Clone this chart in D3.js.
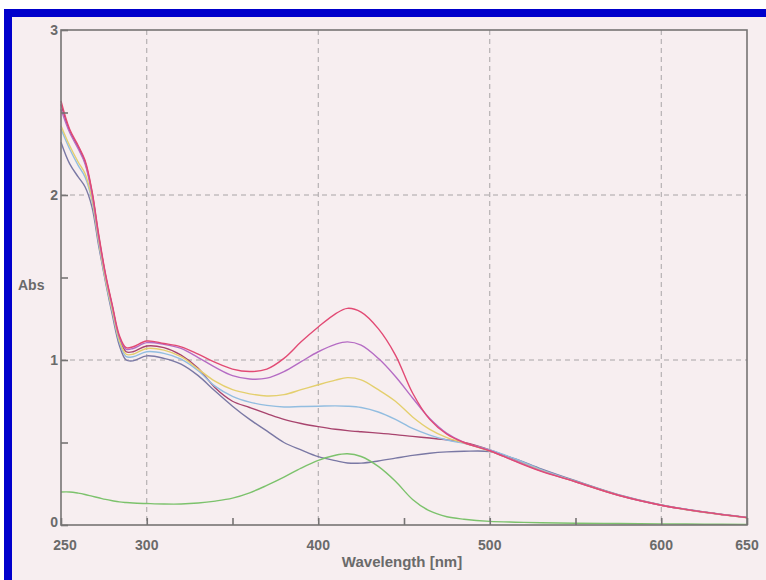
<!DOCTYPE html>
<html>
<head>
<meta charset="utf-8">
<script src="https://d3js.org/d3.v7.min.js"></script>
<style>
  html, body { margin: 0; padding: 0; background: #f7eef0; }
  svg { display: block; }
  .lbl { font-family: "Liberation Sans", Arial, sans-serif; font-weight: bold; fill: #6a6a6a; }
</style>
</head>
<body>
<svg id="canvas" width="766" height="580"></svg>
<script>
"use strict"

// wavelengths (nm) shared by all spectra
const wavelengths = [250, 255, 260, 264, 268, 272, 276, 280, 284, 288, 292, 300, 310, 320, 330, 340, 350, 360, 370, 380,
  390, 400, 410, 417, 425, 435, 445, 455, 465, 475, 485, 500, 515, 530, 550, 575, 600, 625, 650]

const absRed = [2.57, 2.40, 2.30, 2.21, 2.03, 1.76, 1.52, 1.33, 1.15, 1.075, 1.08, 1.115, 1.10, 1.08, 1.035, 0.985, 0.945, 0.93, 0.945, 1.01,
  1.11, 1.20, 1.28, 1.313, 1.29, 1.19, 1.03, 0.80, 0.64, 0.55, 0.50, 0.45, 0.385, 0.325, 0.262, 0.18, 0.12, 0.078, 0.045]
const absPurple = [2.52, 2.38, 2.28, 2.19, 2.01, 1.74, 1.51, 1.32, 1.14, 1.065, 1.07, 1.105, 1.095, 1.07, 1.015, 0.955, 0.905, 0.885, 0.89, 0.93,
  0.99, 1.05, 1.095, 1.11, 1.09, 1.01, 0.90, 0.77, 0.645, 0.555, 0.50, 0.45, 0.388, 0.328, 0.262, 0.18, 0.12, 0.078, 0.045]
const absYellow = [2.42, 2.30, 2.20, 2.13, 1.98, 1.72, 1.49, 1.30, 1.12, 1.035, 1.035, 1.07, 1.06, 1.02, 0.945, 0.87, 0.82, 0.795, 0.782, 0.79,
  0.82, 0.85, 0.878, 0.893, 0.88, 0.82, 0.75, 0.655, 0.58, 0.53, 0.497, 0.448, 0.39, 0.33, 0.262, 0.18, 0.12, 0.077, 0.044]
const absBlue = [2.40, 2.28, 2.18, 2.11, 1.97, 1.71, 1.48, 1.29, 1.11, 1.02, 1.02, 1.05, 1.04, 1.005, 0.935, 0.84, 0.78, 0.745, 0.725, 0.715,
  0.718, 0.72, 0.722, 0.72, 0.712, 0.685, 0.64, 0.585, 0.545, 0.515, 0.495, 0.455, 0.40, 0.335, 0.265, 0.182, 0.121, 0.078, 0.045]
const absMaroon = [2.55, 2.39, 2.29, 2.20, 2.02, 1.75, 1.51, 1.32, 1.13, 1.05, 1.05, 1.085, 1.075, 1.03, 0.95, 0.83, 0.75, 0.712, 0.675, 0.64,
  0.615, 0.596, 0.58, 0.572, 0.565, 0.557, 0.548, 0.537, 0.527, 0.516, 0.50, 0.455, 0.395, 0.333, 0.264, 0.181, 0.12, 0.077, 0.045]
const absGray = [2.32, 2.19, 2.11, 2.05, 1.93, 1.69, 1.47, 1.27, 1.09, 1.00, 0.995, 1.025, 1.01, 0.975, 0.905, 0.81, 0.72, 0.64, 0.57, 0.50,
  0.455, 0.414, 0.39, 0.376, 0.375, 0.388, 0.405, 0.422, 0.435, 0.443, 0.447, 0.445, 0.40, 0.34, 0.268, 0.184, 0.122, 0.079, 0.046]
const absGreen = [0.20, 0.20, 0.193, 0.185, 0.175, 0.165, 0.155, 0.147, 0.14, 0.136, 0.133, 0.13, 0.127, 0.127, 0.133, 0.145, 0.163, 0.195, 0.24, 0.29,
  0.345, 0.392, 0.423, 0.432, 0.415, 0.355, 0.265, 0.155, 0.085, 0.05, 0.035, 0.022, 0.017, 0.014, 0.011, 0.009, 0.007, 0.005, 0.004]

const seriesNames = ["gray", "maroon", "blue", "yellow", "purple", "red", "green"]
const seriesColors = ["#7a78a4", "#a8446e", "#92bde0", "#e4cf6e", "#b56cc4", "#e24a74", "#7cc26c"]
const seriesValues = [absGray, absMaroon, absBlue, absYellow, absPurple, absRed, absGreen]

const xTicks = [250, 300, 350, 400, 450, 500, 550, 600, 650]
const xLabels = [250, 300, 400, 500, 600, 650]
const yTicks = [0, 0.5, 1, 1.5, 2, 2.5, 3]
const yLabels = [0, 1, 2, 3]

function draw() {
  const $ = { left: 61, right: 747, top: 30, bottom: 525 }
  const svg = d3.select("#canvas")

  // scanned page: white strip + blue frame bars
  svg.append("rect").attr("x", 0).attr("y", 0).attr("width", 766).attr("height", 9).attr("fill", "#ffffff")
  svg.append("rect").attr("x", 0).attr("y", 0).attr("width", 4).attr("height", 580).attr("fill", "#ffffff")
  svg.append("rect").attr("x", 4).attr("y", 9).attr("width", 762).attr("height", 8).attr("fill", "#0000cc")
  svg.append("rect").attr("x", 4).attr("y", 9).attr("width", 8).attr("height", 571).attr("fill", "#0000cc")

  const x = d3.scaleLinear().domain([250, 650]).range([$.left, $.right])
  const y = d3.scaleLinear().domain([0, 3]).range([$.bottom, $.top])

  // dashed grid
  const grid = svg.append("g").attr("stroke", "#a8a4a6").attr("stroke-width", 1).attr("stroke-dasharray", "5,4")
  grid.selectAll("line.v").data([300, 400, 500, 600]).enter().append("line")
    .attr("x1", d => x(d)).attr("x2", d => x(d)).attr("y1", $.top).attr("y2", $.bottom)
  grid.selectAll("line.h").data([1, 2]).enter().append("line")
    .attr("y1", d => y(d)).attr("y2", d => y(d)).attr("x1", $.left).attr("x2", $.right)

  // spectra
  const line = d3.line().curve(d3.curveCatmullRom.alpha(0.5))
  seriesValues.forEach((vals, i) => {
    svg.append("path")
      .datum(wavelengths.map((w, j) => [x(w), y(vals[j])]))
      .attr("d", line)
      .attr("fill", "none")
      .attr("stroke", seriesColors[i])
      .attr("stroke-width", 1.4)
      .attr("class", "spectrum " + seriesNames[i])
  })

  // frame
  svg.append("rect")
    .attr("x", $.left).attr("y", $.top)
    .attr("width", $.right - $.left).attr("height", $.bottom - $.top)
    .attr("fill", "none").attr("stroke", "#767474").attr("stroke-width", 1.6)

  // inward ticks
  const xAxis = svg.append("g").attr("transform", "translate(0," + $.bottom + ")")
    .call(d3.axisBottom(x).tickValues(xTicks).tickSizeInner(-7).tickSizeOuter(0).tickFormat(""))
  const yAxis = svg.append("g").attr("transform", "translate(" + $.left + ",0)")
    .call(d3.axisLeft(y).tickValues(yTicks).tickSizeInner(-7).tickSizeOuter(0).tickFormat(""))
  ;[xAxis, yAxis].forEach(a => {
    a.select(".domain").remove()
    a.selectAll("line").attr("stroke", "#767474").attr("stroke-width", 1.6)
  })

  // labels
  svg.selectAll("text.xl").data(xLabels).enter().append("text")
    .attr("class", "lbl").attr("x", d => x(d) + (d === 250 ? 4 : 0)).attr("y", 550)
    .attr("text-anchor", "middle").attr("font-size", 14).text(d => d)
  svg.selectAll("text.yl").data(yLabels).enter().append("text")
    .attr("class", "lbl").attr("x", 58).attr("y", d => y(d) + 5 - (d === 0 ? 3 : 0))
    .attr("text-anchor", "end").attr("font-size", 14).text(d => d)

  svg.append("text").attr("class", "lbl").attr("x", 18).attr("y", 290)
    .attr("font-size", 14).text("Abs")
  svg.append("text").attr("class", "lbl").attr("x", 402).attr("y", 567)
    .attr("text-anchor", "middle").attr("font-size", 15).text("Wavelength [nm]")
}

draw()
</script>
</body>
</html>
